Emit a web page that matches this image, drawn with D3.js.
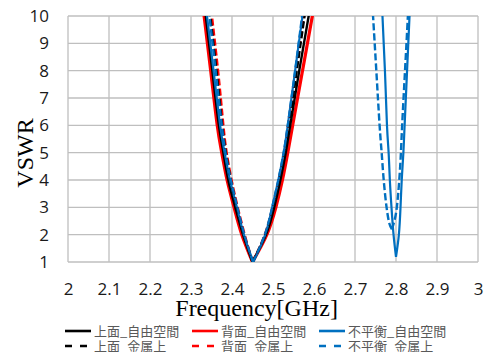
<!DOCTYPE html>
<html>
<head>
<meta charset="utf-8">
<script src="https://cdn.jsdelivr.net/npm/d3@7"></script>
<style>
  html, body { margin: 0; padding: 0; background: #fff; }
  svg { display: block; }
</style>
</head>
<body>
<svg id="chart" width="485" height="352"></svg>
<script>
// [frequency GHz, VSWR]
const topFree = [[2.328,11],[2.336,10],[2.352,8],[2.368,6],[2.379,5],[2.391,4],[2.408,3],[2.427,2],[2.450,1],
  [2.483,2],[2.503,3],[2.518,4],[2.531,5],[2.542,6],[2.564,8],[2.587,10],[2.599,11]];
const backFree = [[2.324,11],[2.332,10],[2.348,8],[2.364,6],[2.375,5],[2.388,4],[2.405,3],[2.424,2],[2.450,1],
  [2.485,2],[2.507,3],[2.523,4],[2.536,5],[2.548,6],[2.572,8],[2.596,10],[2.608,11]];
const unbalFree = [[2.331,11],[2.339,10],[2.355,8],[2.371,6],[2.382,5],[2.395,4],[2.412,3],[2.429,2],[2.452,1],
  [2.481,2],[2.498,3],[2.513,4],[2.526,5],[2.536,6],[2.554,8],[2.572,10],[2.582,11],
  [2.764,11],[2.767,10],[2.773,8],[2.778,6],[2.782,5],[2.785,4],[2.789,3],[2.794,2],[2.800,1.19],
  [2.807,2],[2.811,3],[2.814,4],[2.818,5],[2.821,6],[2.827,8],[2.833,10],[2.836,11]];
const topMetal = [[2.340,11],[2.347,10],[2.362,8],[2.376,6],[2.385,5],[2.397,4],[2.412,3],[2.429,2],[2.450,1],
  [2.481,2],[2.500,3],[2.515,4],[2.528,5],[2.539,6],[2.558,8],[2.577,10],[2.587,11]];
const backMetal = [[2.344,11],[2.351,10],[2.366,8],[2.379,6],[2.387,5],[2.399,4],[2.414,3],[2.431,2],[2.450,1],
  [2.480,2],[2.499,3],[2.514,4],[2.527,5],[2.537,6],[2.556,8],[2.575,10],[2.585,11]];
const unbalMetal = [[2.338,11],[2.345,10],[2.360,8],[2.375,6],[2.384,5],[2.397,4],[2.413,3],[2.430,2],[2.451,1],
  [2.480,2],[2.498,3],[2.513,4],[2.526,5],[2.536,6],[2.554,8],[2.571,10],[2.580,11],
  [2.740,11],[2.744,10],[2.752,8],[2.760,6],[2.765,5],[2.770,4],[2.777,3],[2.784,2.4],[2.790,2.2],
  [2.796,2.5],[2.802,3],[2.808,4],[2.812,5],[2.815,6],[2.822,8],[2.829,10],[2.832,11]];

const xTicks = [2, 2.1, 2.2, 2.3, 2.4, 2.5, 2.6, 2.7, 2.8, 2.9, 3];
const yTicks = [1, 2, 3, 4, 5, 6, 7, 8, 9, 10];

const series = [
  {name: "上面_自由空間", data: topFree, color: "#000000", width: 2.4, dash: null},
  {name: "背面_自由空間", data: backFree, color: "#ff0000", width: 3.2, dash: null},
  {name: "不平衡_自由空間", data: unbalFree, color: "#0070c0", width: 2.2, dash: null},
  {name: "上面_金属上", data: topMetal, color: "#000000", width: 2.4, dash: "7,3"},
  {name: "背面_金属上", data: backMetal, color: "#ff0000", width: 2.4, dash: "7,3"},
  {name: "不平衡_金属上", data: unbalMetal, color: "#0070c0", width: 2.4, dash: "7,3"}
];

const svg = d3.select("#chart");
const margin = {top: 16, right: 7, bottom: 90, left: 68};
const width = 485 - margin.left - margin.right;
const height = 352 - margin.top - margin.bottom;

const x = d3.scaleLinear().domain([2, 3]).range([margin.left, margin.left + width]);
const y = d3.scaleLinear().domain([1, 10]).range([margin.top + height, margin.top]);

// grid
const grid = svg.append("g").attr("stroke", "#bfbfbf").attr("stroke-width", 1.3);
grid.selectAll(".gx").data(xTicks).join("line")
  .attr("x1", d => x(d)).attr("x2", d => x(d))
  .attr("y1", y(1)).attr("y2", y(10));
grid.selectAll(".gy").data(yTicks).join("line")
  .attr("x1", x(2)).attr("x2", x(3))
  .attr("y1", d => y(d)).attr("y2", d => y(d));

// axes (labels only, lines come from grid)
const xAxis = svg.append("g")
  .attr("transform", `translate(0,${y(1)})`)
  .call(d3.axisBottom(x).tickValues(xTicks).tickSize(0).tickPadding(21).tickFormat(d3.format("")));
const yAxis = svg.append("g")
  .attr("transform", `translate(${x(2)},0)`)
  .call(d3.axisLeft(y).tickValues(yTicks).tickSize(0).tickPadding(19).tickFormat(d3.format("")));
[xAxis, yAxis].forEach(a => {
  a.select(".domain").remove();
  a.selectAll("text").attr("font-family", "'Open Sans', sans-serif").attr("font-size", 17).attr("fill", "#1a1a1a");
});

// curves: each dip is drawn as branches that are monotone in VSWR,
// so the tips stay pointed like in the source chart
function branches(data) {
  const out = [];
  let cur = [data[0]];
  let dir = 0;
  for (let i = 1; i < data.length; i++) {
    const d = Math.sign(data[i][1] - data[i - 1][1]);
    if (dir !== 0 && d !== 0 && d !== dir) {
      out.push(cur);
      cur = [data[i - 1]];
    }
    if (d !== 0) dir = d;
    if (data[i][1] > 10.5 && data[i - 1][1] > 10.5) { // jump between dips above the plot
      out.push(cur);
      cur = [];
      dir = 0;
    }
    cur.push(data[i]);
  }
  out.push(cur);
  return out.filter(b => b.length > 1);
}

svg.append("clipPath").attr("id", "plot")
  .append("rect").attr("x", x(2)).attr("y", y(10)).attr("width", width).attr("height", height);

const line = d3.line()
  .x(d => x(d[0])).y(d => y(d[1]))
  .curve(d3.curveNatural);

const paths = [series[1], series[0], series[2], series[4], series[3], series[5]];
svg.append("g").attr("clip-path", "url(#plot)")
  .selectAll("path")
  .data(paths)
  .join("path")
  .attr("d", d => branches(d.data).map(b => line(b.slice().sort((a, c) => a[1] - c[1]))).join(""))
  .attr("fill", "none")
  .attr("stroke", d => d.color)
  .attr("stroke-width", d => d.width)
  .attr("stroke-dasharray", d => d.dash);

// axis titles
svg.append("text")
  .attr("x", x(2.46)).attr("y", 316)
  .attr("text-anchor", "middle")
  .attr("font-family", "'Liberation Serif', 'Times New Roman', serif")
  .attr("font-size", 24)
  .text("Frequency[GHz]");
svg.append("text")
  .attr("transform", "translate(33,153) rotate(-90)")
  .attr("text-anchor", "middle")
  .attr("font-family", "'Liberation Serif', 'Times New Roman', serif")
  .attr("font-size", 24)
  .text("VSWR");

// legend
const legX = [65, 192, 319];
const legY = [331, 346];
const legend = svg.append("g")
  .selectAll("g")
  .data(series)
  .join("g")
  .attr("transform", (d, i) => `translate(${legX[i % 3]},${legY[Math.floor(i / 3)]})`);
legend.append("line")
  .attr("x1", 0).attr("x2", 26)
  .attr("stroke", d => d.color)
  .attr("stroke-width", 2.6)
  .attr("stroke-dasharray", d => d.dash ? "7,8" : null);
legend.append("text")
  .attr("x", 29).attr("dy", "0.35em")
  .attr("font-family", "'Noto Sans CJK JP', sans-serif")
  .attr("font-size", 13)
  .attr("fill", "#595959")
  .text(d => d.name);
</script>
</body>
</html>
